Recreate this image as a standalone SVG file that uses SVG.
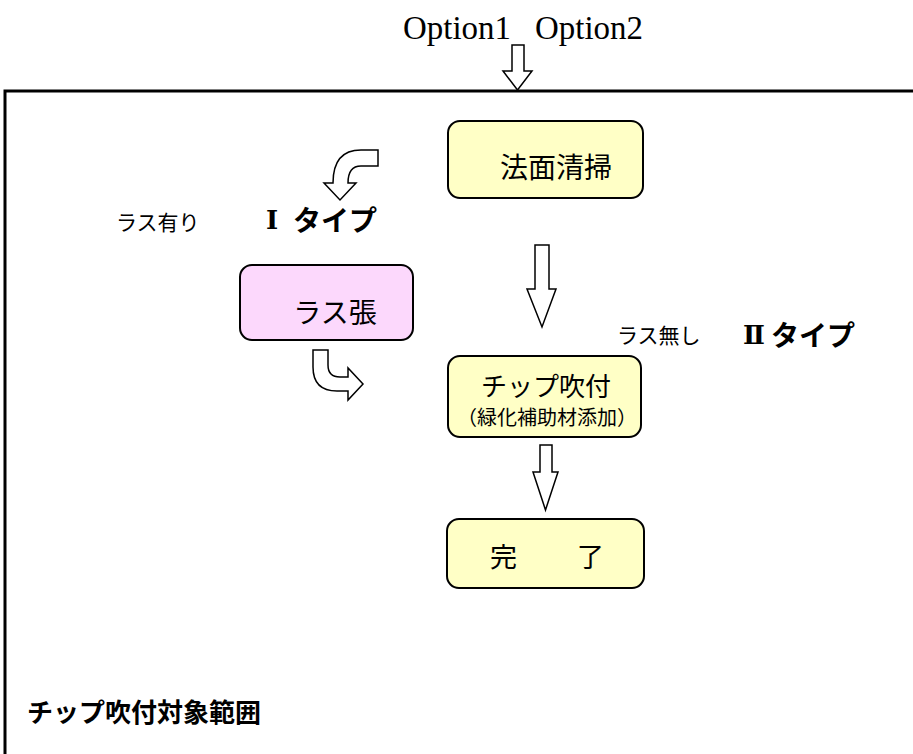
<svg xmlns="http://www.w3.org/2000/svg" width="913" height="754" viewBox="0 0 913 754">
<style>
.box{stroke:#000;stroke-width:2}
.y{fill:#FFFFC6}
.p{fill:#FCD8FC}
.ar{fill:#fff;stroke:#000;stroke-width:1.5;stroke-linejoin:miter}
.jp{font-family:"Noto Sans CJK JP","Noto Sans",sans-serif;fill:#000}
.c{dominant-baseline:central}
.b{font-weight:bold}
.opt{font-family:"Liberation Serif",serif;font-size:33px;fill:#000}
.rn{font-family:"DejaVu Serif","Liberation Serif","Noto Sans CJK JP",serif;font-size:26px;fill:#000;font-weight:bold}
</style>
<rect width="913" height="754" fill="#fff"/>
<g id="frame">
<path d="M5,754 V91 H913" fill="none" stroke="#000" stroke-width="3"/>
</g>
<g id="options">
<text class="opt" x="403" y="39" textLength="108" lengthAdjust="spacingAndGlyphs">Option1</text>
<text class="opt" x="535" y="39" textLength="108" lengthAdjust="spacingAndGlyphs">Option2</text>
</g>
<g id="connectors">
<path class="ar" d="M512,45 H524 V71 H532 L517.5,90 L503,71 H512 Z"/>
<path class="ar" d="M535,245 H549 V289 H556 L542,327 L527,289 H535 Z"/>
<path class="ar" d="M540,445 H552 V472 H558 L545.5,510 L533,472 H540 Z"/>
<path class="ar" d="M378,150 L378,166 L361,166 Q348,166 348,183 L356,183 L340,200 L324,183 L333,183 Q333,150 361,150 Z"/>
<path class="ar" d="M313,350 L328,350 L328,365 Q328,377 340,377 L348,377 L348,368 L363,384 L348,400 L348,391 L337,391 Q313,391 313,367 Z"/>
</g>
<g id="n-houmen">
<rect class="box y" x="448" y="121" width="195" height="77" rx="12"/>
<text class="jp c" x="556" y="166" font-size="28" text-anchor="middle">法面清掃</text>
</g>
<g id="n-rasuhari">
<rect class="box p" x="240" y="265" width="173" height="75" rx="12"/>
<text class="jp c" x="335" y="311" font-size="28" text-anchor="middle">ラス張</text>
</g>
<g id="n-chip">
<rect class="box y" x="448" y="356" width="193" height="81" rx="12"/>
<text class="jp c" x="546" y="384" font-size="26" text-anchor="middle">チップ吹付</text>
<text class="jp c" x="547" y="416" font-size="20" text-anchor="middle" fill="#333">（緑化補助材添加）</text>
</g>
<g id="n-kanryo">
<rect class="box y" x="447" y="519" width="197" height="69" rx="12"/>
<text class="jp c" x="490" y="555" font-size="27">完</text>
<text class="jp c" x="577" y="555" font-size="27">了</text>
</g>
<g id="labels">
<text class="jp c" x="116" y="221" font-size="21">ラス有り</text>
<text class="rn" x="272" y="229" text-anchor="middle">Ⅰ</text>
<text class="jp c b" x="293" y="219" font-size="28">タイプ</text>
<text class="jp c" x="617" y="334" font-size="21">ラス無し</text>
<text class="rn" x="754" y="344" text-anchor="middle">Ⅱ</text>
<text class="jp c b" x="771" y="334" font-size="28">タイプ</text>
<text class="jp c b" x="27" y="710" font-size="26">チップ吹付対象範囲</text>
</g>
</svg>
